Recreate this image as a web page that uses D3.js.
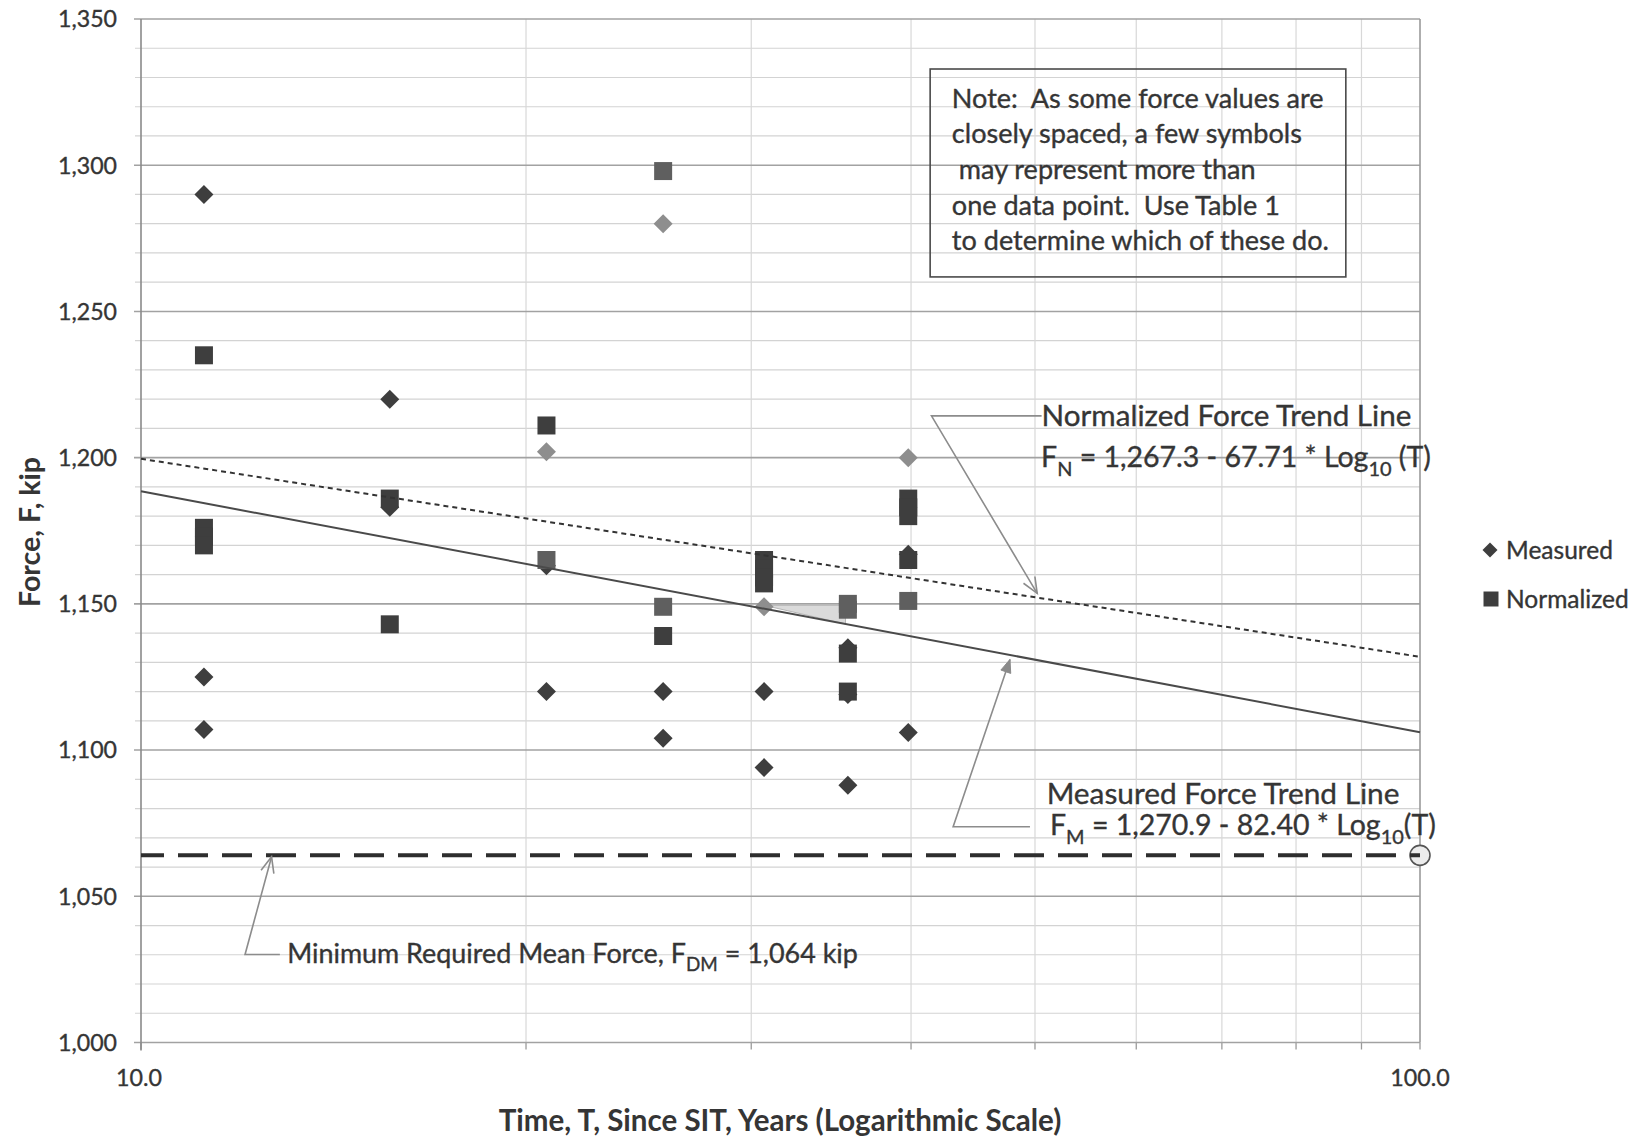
<!DOCTYPE html>
<html><head><meta charset="utf-8">
<script src="https://cdn.jsdelivr.net/npm/d3@7"></script>
<style>
body{margin:0;background:#fff}
svg{display:block}
text{font-family:Lato,"Noto Sans",sans-serif;fill:#353535}
text.w{stroke:#353535;stroke-width:0.35px}
</style>
</head><body>
<svg id="c" width="1644" height="1139"></svg>
<script>
// ---------------- DATA ----------------
const measuredT = [11.2,11.2,11.2, 15.65,15.65, 20.75,20.75, 25.6,25.6, 30.7,30.7, 35.7,35.7,35.7, 39.8,39.8];
const measuredF = [1290,1125,1107, 1220,1183, 1163,1120, 1120,1104, 1120,1094, 1135,1119,1088, 1167,1106];
const measuredLightT = [20.75,25.6,30.7,39.8];
const measuredLightF = [1202,1280,1149,1200];
const normalizedT = [11.2,11.2,11.2,11.2, 15.65,15.65, 20.75, 25.6, 30.7,30.7,30.7,30.7, 35.7,35.7, 39.8,39.8,39.8,39.8];
const normalizedF = [1235,1176,1173,1170, 1186,1143, 1211, 1139, 1165,1162,1159,1157, 1133,1120, 1186,1183,1180,1165];
const normalizedLightT = [20.75,25.6,25.6,35.7,35.7,39.8];
const normalizedLightF = [1165,1298,1149,1150,1148,1151];
const trendNormalized = {intercept:1267.3, slope:67.71};
const trendMeasured = {intercept:1270.9, slope:82.40};
const minRequiredForce = 1064;
const yTickValues = [1000,1050,1100,1150,1200,1250,1300,1350];
const xTickValues = [10,100];
const seriesNames = ["Measured","Normalized"];
const noteLines = ["Note:  As some force values are","closely spaced, a few symbols"," may represent more than","one data point.  Use Table 1","to determine which of these do."];

// ---------------- LAYOUT ----------------
const m = {left:141, right:1420, top:19, bottom:1042.5};
const x = d3.scaleLog().domain([10,100]).range([m.left,m.right]);
const y = d3.scaleLinear().domain([1000,1350]).range([m.bottom,m.top]);
const svg = d3.select('#c');

function fit(t, w){
  const fs = parseFloat(t.attr('font-size'));
  const cur = t.node().getComputedTextLength();
  const nf = fs*w/cur;
  t.attr('font-size', nf);
  return nf;
}

// grid
const gGrid = svg.append('g');
const minorF = d3.range(1000,1351,10).filter(v=>v%50!==0);
gGrid.selectAll('line.mi').data(minorF).join('line')
  .attr('x1',m.left-6).attr('x2',m.right).attr('y1',d=>y(d)).attr('y2',d=>y(d))
  .attr('stroke','#d3d3d3').attr('stroke-width',1.2);
const vT = d3.range(20,100,10);
gGrid.selectAll('line.v').data(vT).join('line')
  .attr('x1',d=>x(d)).attr('x2',d=>x(d)).attr('y1',m.top).attr('y2',m.bottom)
  .attr('stroke','#d8d8d8').attr('stroke-width',1.2);
gGrid.selectAll('line.vt').data(d3.range(10,101,10)).join('line')
  .attr('x1',d=>x(d)).attr('x2',d=>x(d)).attr('y1',m.bottom).attr('y2',m.bottom+7)
  .attr('stroke','#9a9a9a').attr('stroke-width',1.3);
const majorF = d3.range(1000,1351,50);
gGrid.selectAll('line.ma').data(majorF).join('line')
  .attr('x1',m.left-7).attr('x2',m.right).attr('y1',d=>y(d)).attr('y2',d=>y(d))
  .attr('stroke','#a2a2a2').attr('stroke-width',1.6);
gGrid.append('line').attr('x1',m.left).attr('x2',m.left).attr('y1',m.top).attr('y2',m.bottom+8)
  .attr('stroke','#8a8a8a').attr('stroke-width',1.6);
gGrid.append('line').attr('x1',m.right).attr('x2',m.right).attr('y1',m.top).attr('y2',m.bottom)
  .attr('stroke','#9a9a9a').attr('stroke-width',1.6);

// tick labels
const yl = svg.append('g').selectAll('text').data(yTickValues).join('text')
  .attr('class','w').attr('text-anchor','end').attr('x',117).attr('font-size',26)
  .text(d=>d3.format(",")(d));
const yfs = fit(yl.filter(d=>d===1350),59);
yl.attr('font-size',yfs).attr('y',d=>y(d)+0.36*yfs);

const xl = svg.append('g').selectAll('text').data(xTickValues).join('text')
  .attr('class','w').attr('text-anchor','middle').attr('font-size',26)
  .text(d=>d3.format(".1f")(d));
const xfs = fit(xl.filter(d=>d===10),46);
xl.attr('font-size',xfs).attr('x',d=>x(d)-(d===10?2:0)).attr('y',1078+0.36*xfs);

// axis titles
const yt = svg.append('text').attr('font-weight','bold').attr('font-size',26).attr('text-anchor','middle')
  .text('Force, F, kip');
const ytfs = fit(yt,150);
yt.attr('transform',`translate(${30+0.36*ytfs},532) rotate(-90)`);
const xt = svg.append('text').attr('font-weight','bold').attr('font-size',26).attr('text-anchor','middle')
  .text('Time, T, Since SIT, Years (Logarithmic Scale)');
const xtfs = fit(xt,563);
xt.attr('x',780).attr('y',1120+0.36*xtfs);

// shaded triangle artifact
const shade = [[30.7,1149.5],[35.55,1149.5],[35.55,trendMeasured.intercept-trendMeasured.slope*Math.log10(35.55)]];
svg.append('path').attr('d',d3.line().x(d=>x(d[0])).y(d=>y(d[1]))(shade)+'Z')
  .attr('fill','#dadada').attr('stroke','#b5b5b5').attr('stroke-width',1);

// min required circle + dashed line
svg.append('circle').attr('cx',x(100)).attr('cy',y(minRequiredForce)).attr('r',10)
  .attr('fill','#ececec').attr('stroke','#555').attr('stroke-width',1.6);
svg.append('line').attr('x1',x(10)).attr('x2',x(100)).attr('y1',y(minRequiredForce)).attr('y2',y(minRequiredForce))
  .attr('stroke','#2e2e2e').attr('stroke-width',4).attr('stroke-dasharray','30,14').attr('stroke-dashoffset',7);

// markers
const diamond = s => `M0,${-s}L${s},0L0,${s}L${-s},0Z`;
const square = s => `M${-s},${-s}H${s}V${s}H${-s}Z`;
function drawPts(T,F,path,fill){
  svg.append('g').selectAll('path').data(T.map((t,i)=>[t,F[i]])).join('path')
    .attr('transform',d=>`translate(${x(d[0])},${y(d[1])})`).attr('d',path).attr('fill',fill);
}
drawPts(measuredT,measuredF,diamond(9.5),'#3e3e3e');
drawPts(measuredLightT,measuredLightF,diamond(9.5),'#8e8e8e');
drawPts(normalizedT,normalizedF,square(9),'#3e3e3e');
drawPts(normalizedLightT,normalizedLightF,square(9),'#5f5f5f');

// trend lines
const lineGen = d3.line().x(d=>x(d[0])).y(d=>y(d[1]));
function trendPts(tr){ return [10,100].map(t=>[t,tr.intercept-tr.slope*Math.log10(t)]); }
svg.append('path').attr('d',lineGen(trendPts(trendMeasured))).attr('fill','none')
  .attr('stroke','#4a4a4a').attr('stroke-width',2);
svg.append('path').attr('d',lineGen(trendPts(trendNormalized))).attr('fill','none')
  .attr('stroke','#333').attr('stroke-width',2).attr('stroke-dasharray','5,4');

// callouts
const cc = '#8c8c8c';
function poly(pts){
  svg.append('path').attr('d',lineGen(pts)).attr('fill','none').attr('stroke',cc).attr('stroke-width',1.6);
}
function head(from,tip,len,ang,filled){
  const x1=x(from[0]),y1=y(from[1]),x2=x(tip[0]),y2=y(tip[1]);
  const a=Math.atan2(y2-y1,x2-x1);
  const p=[a+Math.PI-ang,a+Math.PI+ang].map(b=>[x2+len*Math.cos(b),y2+len*Math.sin(b)]);
  svg.append('path').attr('d',`M${p[0][0]},${p[0][1]}L${x2},${y2}L${p[1][0]},${p[1][1]}`+(filled?'Z':''))
    .attr('fill',filled?'#8a8a8a':'none').attr('stroke',filled?'#8a8a8a':cc).attr('stroke-width',filled?1:1.6);
}
const nElbow=[41.5,1214.3], nEnd=[50.6,1214.3], nTip=[50.2,1153.6];
poly([nEnd,nElbow,nTip]); head(nElbow,nTip,17,0.4,false);
const mTip=[47.8,1131], mElbow=[43.15,1073.8], mEnd=[49.55,1073.8];
poly([mEnd,mElbow,mTip]); head(mElbow,mTip,14,0.38,true);
const rTip=[12.65,1063.5], rElbow=[12.06,1030.1], rEnd=[12.84,1030.1];
poly([rEnd,rElbow,rTip]); head(rElbow,rTip,17,0.4,false);

// labels with subscripts
function subLabel(parts, xPos, yCenter, width, size){
  const t = svg.append('text').attr('class','w').attr('font-size',size).attr('x',xPos).style('white-space','pre');
  parts.forEach((p,i)=>{
    const ts = t.append('tspan').text(p.s);
    if(p.sub){ ts.attr('font-size','0.7em').attr('dy','0.45em'); }
    else if(i>0 && parts[i-1].sub){ ts.attr('font-size','1em').attr('dy','-0.315em'); }
  });
  const fs = fit(t,width);
  t.attr('y',yCenter+0.36*fs);
  return fs;
}
subLabel([{s:'Normalized Force Trend Line'}], x(50.6), y(1214.3), 370, 30);
subLabel([{s:'F'},{s:'N',sub:true},{s:' = 1,267.3 - 67.71 * Log'},{s:'10',sub:true},{s:' (T)'}], x(50.55), y(1200.3), 390, 30);
subLabel([{s:'Measured Force Trend Line'}], x(51.06), y(1085.4), 353, 30);
subLabel([{s:'F'},{s:'M',sub:true},{s:' = 1,270.9 - 82.40 * Log'},{s:'10',sub:true},{s:'(T)'}], x(51.37), y(1074.5), 386, 30);
subLabel([{s:'Minimum Required Mean Force, F'},{s:'DM',sub:true},{s:' = 1,064 kip'}], x(13.01), y(1030.6), 571, 27);

// note box
svg.append('rect').attr('x',x(41.4)).attr('y',y(1332.9)).attr('width',x(87.5)-x(41.4)).attr('height',y(1261.8)-y(1332.9))
  .attr('fill','none').attr('stroke','#4a4a4a').attr('stroke-width',1.6);
const noteCenters=[1322.9,1310.9,1298.6,1286.4,1274.2];
const nl = svg.append('g').selectAll('text').data(noteLines).join('text')
  .attr('class','w').attr('font-size',26).attr('x',x(43.05)).style('white-space','pre').text(d=>d);
const nfs = fit(nl.filter((d,i)=>i===0),372);
nl.attr('font-size',nfs).attr('y',(d,i)=>y(noteCenters[i])+0.36*nfs);

// legend
const lg = svg.append('g');
lg.append('path').attr('transform','translate(1490,550)').attr('d',diamond(7.5)).attr('fill','#3e3e3e');
lg.append('path').attr('transform','translate(1491,599)').attr('d',square(7.5)).attr('fill','#3e3e3e');
const l1 = lg.append('text').attr('class','w').attr('x',1506).attr('font-size',26).text(seriesNames[0]);
const lfs = fit(l1,107);
l1.attr('y',550+0.36*lfs);
lg.append('text').attr('class','w').attr('x',1506).attr('font-size',lfs).attr('y',599+0.36*lfs).text(seriesNames[1]);
</script>
</body></html>
